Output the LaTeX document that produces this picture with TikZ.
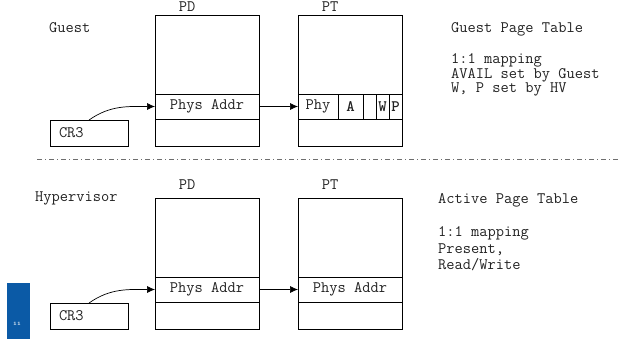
\documentclass[tikz,border=0pt]{standalone}
\usetikzlibrary{arrows.meta,positioning}
\definecolor{slide}{HTML}{0B5AA6}
\definecolor{sepline}{HTML}{6E6E6E}
\definecolor{ink}{HTML}{222222}

\begin{document}
\begin{tikzpicture}[x=1pt,y=-1pt,
    mono/.style={font=\fontsize{16}{12.5}\selectfont\ttfamily, text=ink, inner sep=0pt},
    tbl/.style={draw, line width=0.9pt, minimum width=104pt, minimum height=131pt,
                inner sep=0pt, outer sep=0pt},
    entry/.style={mono, draw, line width=0.5pt, minimum height=25pt, outer sep=0pt},
    flag/.style={entry, font=\fontsize{16}{12.5}\selectfont\ttfamily\bfseries},
    reg/.style={mono, draw, line width=0.9pt, minimum height=26pt, text width=60pt,
                align=left, inner xsep=9pt, outer sep=0pt},
    ptr/.style={-{Latex[length=8pt,width=7pt]}, line width=0.7pt},
    note/.style={mono, align=left, anchor=west},
]
\useasboundingbox (0,0) rectangle (620,339);

% guest
\node[mono, anchor=west] (guest) at (49,28) {Guest};
\node[tbl] (gpd) at (207,80.5) {};
\node[mono, above=3pt of gpd.north, xshift=-20pt] (gpdl) {PD};
\node[entry, minimum width=104pt] (gpde) at (207,106.5) {Phys Addr};
\node[reg] (gcr) at (89,133) {CR3};

\node[tbl] (gpt) at (350,80.5) {};
\node[mono, above=3pt of gpt.north, xshift=-20pt] (gptl) {PT};
\node[entry, minimum width=40pt, anchor=west] (gphy) at (gpt.west |- gpde.center) {Phy};
\node[flag, minimum width=25pt, right=0pt of gphy] (gavl) {A};
\node[entry, minimum width=13pt, right=0pt of gavl] (gfre) {};
\node[flag, minimum width=13pt, right=0pt of gfre] (gw) {W};
\node[flag, minimum width=13pt, right=0pt of gw] (gp) {P};

\draw[ptr] (gcr.north) to[out=35,in=180] (gpde.west);
\draw[ptr] (gpde) -- (gphy);

\node[mono, anchor=west] (gtitle) at (451,29) {Guest Page Table};
\node[note] (gnote) at (451,75) {1:1 mapping\\AVAIL set by Guest\\W, P set by HV};

% separator
\coordinate (sepl) at (37,159);
\coordinate (sepr) at (620,159);
\draw[sepline, line width=0.8pt, dash pattern=on 5pt off 3pt on 1pt off 3pt] (sepl) -- (sepr);

% hypervisor
\node[mono, anchor=west] (hyp) at (35,198) {Hypervisor};
\node[tbl] (hpd) at (207,263.5) {};
\node[mono, above=8pt of hpd.north, xshift=-20pt] (hpdl) {PD};
\node[entry, minimum width=104pt] (hpde) at (207,289.5) {Phys Addr};
\node[reg] (hcr) at (89,316) {CR3};

\node[tbl] (hpt) at (350,263.5) {};
\node[mono, above=8pt of hpt.north, xshift=-20pt] (hptl) {PT};
\node[entry, minimum width=104pt] (hpte) at (350,289.5) {Phys Addr};

\draw[ptr] (hcr.north) to[out=35,in=180] (hpde.west);
\draw[ptr] (hpde) -- (hpte);

\node[mono, anchor=west] (htitle) at (438,200) {Active Page Table};
\node[note, font=\fontsize{16}{16.5}\selectfont\ttfamily] (hnote) at (438,249) {1:1 mapping\\Present,\\Read/Write};

% slide tab
\node[fill=slide, minimum width=23pt, minimum height=56pt, inner sep=0pt, anchor=north west] (tab) at (7,283) {};
\node[text=white, font=\fontsize{5}{5}\selectfont\bfseries, inner sep=0pt] (pgno) at (17,324) {11};
\end{tikzpicture}
\end{document}
